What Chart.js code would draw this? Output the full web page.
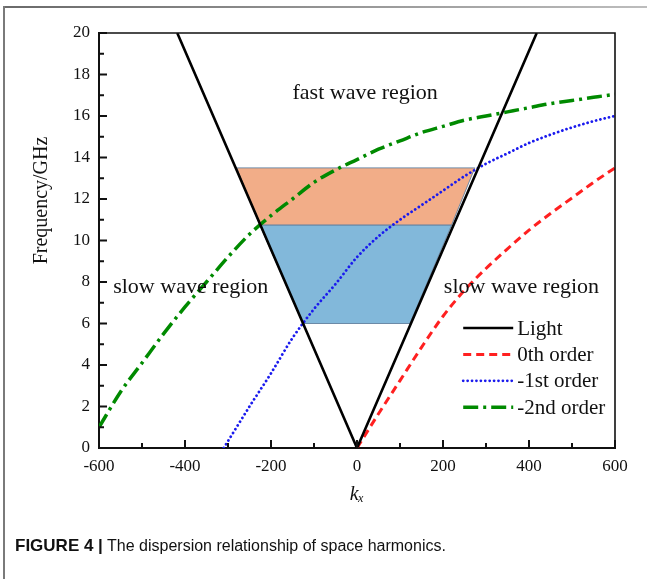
<!DOCTYPE html>
<html><head><meta charset="utf-8">
<script src="https://cdn.jsdelivr.net/npm/chart.js@4.4.1/dist/chart.umd.min.js"></script>
<style>
html,body{margin:0;padding:0;background:#fff;}
#wrap{position:relative;width:647px;height:579px;overflow:hidden;background:#fff;}
#topline{position:absolute;left:3px;top:6px;width:644px;height:2px;background:linear-gradient(to right,#6a6a6a,#bdbdbd);}
#leftline{position:absolute;left:3px;top:6px;width:1.5px;height:573px;background:#7a7a7a;}
#cv{position:absolute;left:0;top:0;}
#caption{position:absolute;left:15px;top:536px;font-family:"Liberation Sans",Arial,sans-serif;font-size:16px;line-height:20px;color:#111;white-space:nowrap;}
#caption b{font-size:17px;}
</style></head><body>
<div id="wrap">
<div id="topline"></div><div id="leftline"></div>
<canvas id="cv" width="647" height="579"></canvas>
<div id="caption"><b>FIGURE 4 |</b> The dispersion relationship of space harmonics.</div>
</div>
<script>
// ---- data ----
const kLight = [-418, 0, 418];
const fLight = [20, 0, 20];
const k0th = [0, 50, 100, 150, 200, 250, 300, 350, 400, 450, 500, 550, 600];
const f0th = [0, 1.65, 3.25, 4.85, 6.35, 7.6, 8.65, 9.6, 10.5, 11.3, 12.05, 12.8, 13.5];
const k1st = [-310, -250, -200, -150, -100, -50, 0, 50, 100, 150, 200, 250, 300, 350, 400, 450, 500, 550, 600];
const f1st = [0, 2.0, 3.6, 5.3, 6.7, 7.9, 9.2, 10.2, 11.0, 11.7, 12.4, 13.1, 13.7, 14.2, 14.7, 15.1, 15.45, 15.75, 16.0];
const k2nd = [-600, -550, -500, -450, -400, -350, -300, -250, -200, -150, -100, -50, 0, 50, 100, 150, 200, 250, 300, 350, 400, 450, 500, 550, 600];
const f2nd = [1.0, 2.7, 4.1, 5.5, 6.8, 8.0, 9.2, 10.3, 11.2, 12.0, 12.8, 13.4, 13.9, 14.4, 14.8, 15.2, 15.5, 15.8, 16.0, 16.2, 16.4, 16.6, 16.75, 16.9, 17.05];
const kOrangeBand = [-280, 274, 220, -226, -280];
const fOrangeBand = [13.5, 13.5, 10.75, 10.75, 13.5];
const kBlueBand = [-226, 220, 123, -126, -226];
const fBlueBand = [10.75, 10.75, 6, 6, 10.75];
const xTickValues = [-600, -400, -200, 0, 200, 400, 600];
const yTickValues = [0, 2, 4, 6, 8, 10, 12, 14, 16, 18, 20];
const seriesNames = ['Light', '0th order', '-1st order', '-2nd order'];
const regionLabels = ['fast wave region', 'slow wave region', 'slow wave region'];
const regionAnchorsK = [19, -567, 202];
const regionAnchorsF = [17.1, 7.76, 7.76];

const pts = (ks, fs) => ks.map((k, i) => ({x: k, y: fs[i]}));
const SERIF = '"Liberation Serif","Times New Roman",serif';

const datasets = [
  {label: seriesNames[0], data: pts(kLight, fLight), borderColor: '#000', borderWidth: 2.6, tension: 0, order: 1},
  {label: seriesNames[1], data: pts(k0th, f0th), borderColor: '#ff2020', borderWidth: 3, borderDash: [8, 5], cubicInterpolationMode: 'monotone', order: 2},
  {label: seriesNames[2], data: pts(k1st, f1st), borderColor: '#1a1aee', borderWidth: 2.8, borderDash: [0.01, 4.4], borderCapStyle: 'round', cubicInterpolationMode: 'monotone', order: 3},
  {label: seriesNames[3], data: pts(k2nd, f2nd), borderColor: '#008a00', borderWidth: 3.5, borderDash: [15, 5, 3, 5], cubicInterpolationMode: 'monotone', order: 4},
  {label: 'band1', data: pts(kOrangeBand, fOrangeBand), borderColor: 'rgba(100,130,160,0.9)', borderWidth: 1, backgroundColor: '#f2ad88', fill: 'shape', tension: 0, order: 10},
  {label: 'band2', data: pts(kBlueBand, fBlueBand), borderColor: 'rgba(100,130,160,0.9)', borderWidth: 1, backgroundColor: '#82b8da', fill: 'shape', tension: 0, order: 11}
];
datasets.forEach(d => { d.showLine = true; d.pointRadius = 0; d.pointHoverRadius = 0; });

const decor = {
  id: 'decor',
  afterDraw(chart) {
    const {ctx, chartArea: a, scales: {x, y}} = chart;
    ctx.save();
    ctx.strokeStyle = '#111'; ctx.lineWidth = 1.6;
    ctx.beginPath(); ctx.moveTo(a.left, a.top); ctx.lineTo(a.right, a.top); ctx.lineTo(a.right, a.bottom); ctx.stroke();
    ctx.lineWidth = 2; ctx.beginPath();
    for (let v = -600; v <= 600; v += 100) {
      const px = x.getPixelForValue(v); const len = (v % 200 === 0) ? 8 : 5;
      ctx.moveTo(px, a.bottom); ctx.lineTo(px, a.bottom - len);
    }
    for (let v = 0; v <= 20; v += 1) {
      const py = y.getPixelForValue(v); const len = (v % 2 === 0) ? 8 : 5;
      ctx.moveTo(a.left, py); ctx.lineTo(a.left + len, py);
    }
    ctx.stroke();
    ctx.fillStyle = '#111'; ctx.font = '22px ' + SERIF; ctx.textBaseline = 'middle';
    regionLabels.forEach((t, i) => {
      ctx.textAlign = i === 0 ? 'center' : 'left';
      ctx.fillText(t, x.getPixelForValue(regionAnchorsK[i]), y.getPixelForValue(regionAnchorsF[i]));
    });
    const lx = x.getPixelForValue(247), ly = y.getPixelForValue(5.78);
    ctx.font = '21px ' + SERIF; ctx.textAlign = 'left';
    for (let i = 0; i < 4; i++) {
      const ds = chart.data.datasets[i];
      const yy = ly + i * 26.4;
      ctx.save();
      ctx.strokeStyle = ds.borderColor; ctx.lineWidth = ds.borderWidth;
      ctx.setLineDash(ds.borderDash || []); ctx.lineCap = ds.borderCapStyle || 'butt';
      ctx.beginPath(); ctx.moveTo(lx, yy); ctx.lineTo(lx + 50, yy); ctx.stroke();
      ctx.restore();
      ctx.fillStyle = '#111';
      ctx.fillText(seriesNames[i], lx + 54, yy + 1);
    }
    ctx.restore();
  }
};

new Chart(document.getElementById('cv'), {
  type: 'scatter',
  data: {datasets},
  plugins: [decor],
  options: {
    responsive: false, animation: false, devicePixelRatio: 1,
    layout: {padding: {left: 0, right: 32, top: 33, bottom: 69}},
    plugins: {legend: {display: false}, tooltip: {enabled: false}},
    scales: {
      x: {
        type: 'linear', min: -600, max: 600,
        afterBuildTicks: s => { s.ticks = xTickValues.map(v => ({value: v})); },
        afterFit: s => { s.height = 62; },
        grid: {display: false, drawTicks: false},
        border: {display: true, color: '#111', width: 2},
        ticks: {padding: 8, color: '#111', font: {family: SERIF, size: 17}, maxRotation: 0, autoSkip: false},
        title: {display: true, text: 'kₓ', color: '#111', font: {family: SERIF, size: 20, style: 'italic'}, padding: {top: 0, bottom: 3}}
      },
      y: {
        type: 'linear', min: 0, max: 20,
        afterBuildTicks: s => { s.ticks = yTickValues.map(v => ({value: v})); },
        afterFit: s => { s.width = 99; },
        grid: {display: false, drawTicks: false},
        border: {display: true, color: '#111', width: 2},
        ticks: {padding: 9, color: '#111', font: {family: SERIF, size: 17}, autoSkip: false},
        title: {display: true, text: '\u2002\u2002\u2002\u2002\u2002\u2002\u2002\u2002Frequency/GHz', color: '#111', font: {family: SERIF, size: 20}, padding: {top: 30, bottom: 0}}
      }
    }
  }
});
</script>
</body></html>
